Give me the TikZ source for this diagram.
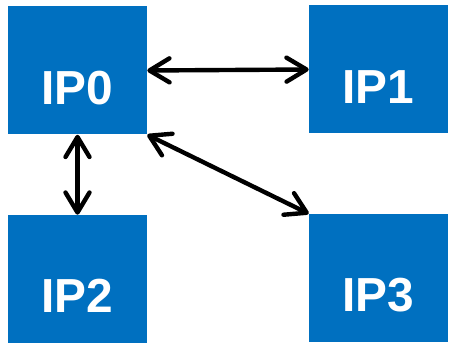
\documentclass[tikz,border=0pt]{standalone}
\usepackage{fontspec}
\setmainfont{Liberation Sans}
\usetikzlibrary{arrows.meta}
\definecolor{ipblue}{RGB}{0,112,192}
\begin{document}
\begin{tikzpicture}[
  ipbox/.style={rectangle,fill=ipblue,text=white,minimum width=3.475cm,
                minimum height=3.2cm,inner sep=0pt,
                text height=1.9cm,text depth=0.2cm,
                font=\fontsize{34}{34}\selectfont\bfseries},
  link/.style={line width=0.11cm,line cap=round,
               {Straight Barb[round,length=0.5cm,width=0.6cm]}-{Straight Barb[round,length=0.5cm,width=0.6cm]}}]
\node[ipbox] (ip0) at (1.9375,6.8125) {IP0};
\node[ipbox] (ip1) at (9.4625,6.8375) {IP1};
\node[ipbox] (ip2) at (1.9375,1.6) {IP2};
\node[ipbox] (ip3) at (9.4625,1.625) {IP3};
\draw[link] (ip0.east) -- (ip1.west);
\draw[link] (ip0.south) -- (ip2.north);
\draw[link] (ip0.south east) -- (ip3.north west);
\path[use as bounding box] (0,0) rectangle (11.225,8.575);
\end{tikzpicture}
\end{document}
